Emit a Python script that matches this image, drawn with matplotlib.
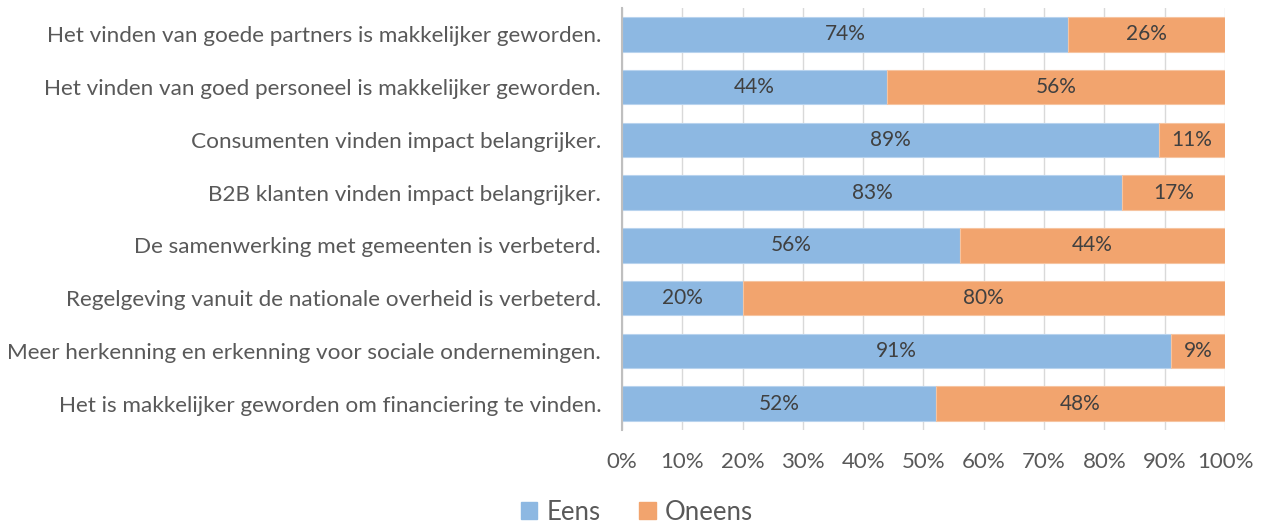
import matplotlib
matplotlib.use("Agg")
import matplotlib.pyplot as plt
from matplotlib.patches import Patch

categories = [
    "Het vinden van goede partners is makkelijker geworden.",
    "Het vinden van goed personeel is makkelijker geworden.",
    "Consumenten vinden impact belangrijker.",
    "B2B klanten vinden impact belangrijker.",
    "De samenwerking met gemeenten is verbeterd.",
    "Regelgeving vanuit de nationale overheid is verbeterd.",
    "Meer herkenning en erkenning voor sociale ondernemingen.",
    "Het is makkelijker geworden om financiering te vinden.",
]
eens = [74, 44, 89, 83, 56, 20, 91, 52]
oneens = [26, 56, 11, 17, 44, 80, 9, 48]
series_names = ["Eens", "Oneens"]
xticks = [0, 10, 20, 30, 40, 50, 60, 70, 80, 90, 100]
xtick_labels = [f"{t}%" for t in xticks]

blue = "#8DB8E2"
orange = "#F2A46E"
plt.rcParams['font.family'] = ['Lato', 'DejaVu Sans']

fig = plt.figure(figsize=(12.66, 5.23), dpi=100)
ax = fig.add_axes([0.4913, 0.1778, 0.4763, 0.8069])

y = list(range(len(categories)))
h = 0.65
ax.barh(y, eens, height=h, color=blue, edgecolor="#B8D3EE", linewidth=0.8, zorder=3)
ax.barh(y, oneens, left=eens, height=h, color=orange, edgecolor="#F6C4A0", linewidth=0.8, zorder=3)

for i in y:
    ax.text(eens[i] / 2, i, f"{eens[i]}%", ha="center", va="center", fontsize=15, color="#404040", zorder=4)
    ax.text(eens[i] + oneens[i] / 2, i, f"{oneens[i]}%", ha="center", va="center", fontsize=15, color="#404040", zorder=4)

ax.set_ylim(len(categories) - 0.5, -0.5)
ax.set_xlim(0, 100)
ax.set_yticks(y)
ax.set_yticklabels(categories, fontsize=16.2, color="#595959")
ax.set_xticks(xticks)
ax.set_xticklabels(xtick_labels, fontsize=16, color="#595959")
ax.tick_params(axis="y", length=0, pad=15)
ax.tick_params(axis="x", length=0, pad=16)
ax.grid(axis="x", color="#D9D9D9", linewidth=1, zorder=0)
for s in ["top", "right", "bottom"]:
    ax.spines[s].set_visible(False)
ax.spines["left"].set_color("#BFBFBF")
ax.spines["left"].set_linewidth(1.5)
ax.spines["left"].set_zorder(5)

handles = [Patch(color=blue), Patch(color=orange)]
fig.legend(handles, series_names, loc="center", bbox_to_anchor=(0.503, 0.021), ncol=2,
           frameon=False, fontsize=18.5, handlelength=0.65, handleheight=0.65, handletextpad=0.35,
           columnspacing=1.5, labelcolor="#595959", borderpad=0)

fig.savefig("out.png", dpi=100)
